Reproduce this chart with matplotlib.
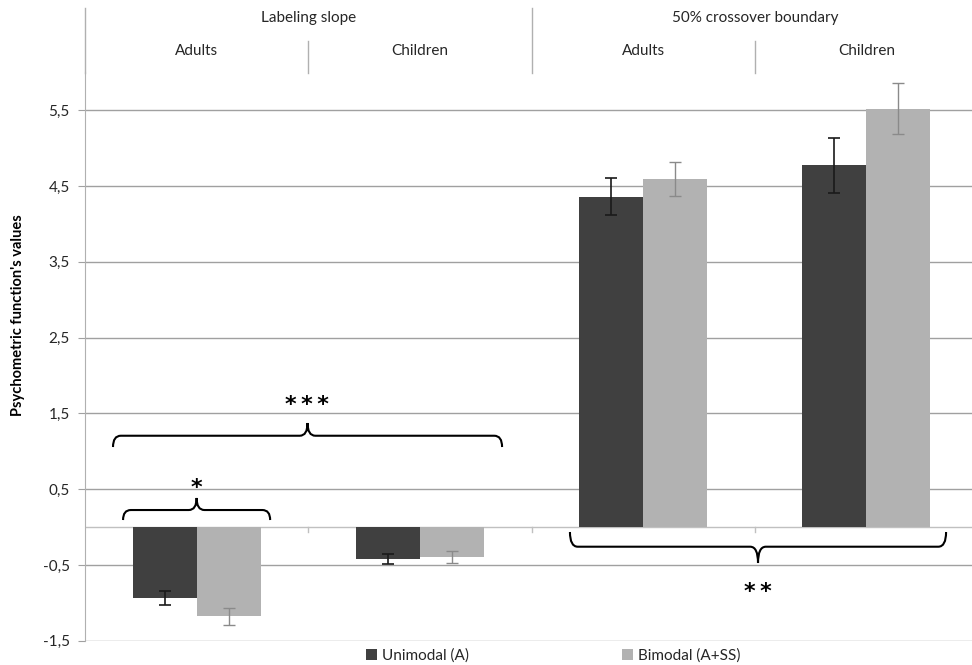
import matplotlib
matplotlib.use("Agg")
import matplotlib.pyplot as plt
import numpy as np
from matplotlib.path import Path
from matplotlib.patches import PathPatch
from matplotlib.transforms import blended_transform_factory

plt.rcParams['font.family'] = ['Lato', 'DejaVu Sans']

groups = ["Labeling slope", "50% crossover boundary"]
subgroups = ["Adults", "Children", "Adults", "Children"]
series = ["Unimodal (A)", "Bimodal (A+SS)"]
unimodal = [-0.94, -0.42, 4.36, 4.77]
unimodal_err = [0.09, 0.065, 0.24, 0.36]
bimodal = [-1.18, -0.40, 4.59, 5.52]
bimodal_err = [0.115, 0.08, 0.225, 0.34]
yticks = [-1.5, -0.5, 0.5, 1.5, 2.5, 3.5, 4.5, 5.5]

dark = "#404040"
light = "#b2b2b2"
grid = "#a0a0a0"


def brace(ax, x0, x1, y_end, y_mid, y_tip, rx=0.035):
    xm = (x0 + x1) / 2
    verts = [(x0, y_end), (x0, y_mid), (x0 + rx, y_mid),
             (xm - rx, y_mid), (xm, y_mid), (xm, y_tip),
             (xm, y_mid), (xm + rx, y_mid),
             (x1 - rx, y_mid), (x1, y_mid), (x1, y_end)]
    codes = [Path.MOVETO, Path.CURVE3, Path.CURVE3,
             Path.LINETO, Path.CURVE3, Path.CURVE3,
             Path.CURVE3, Path.CURVE3,
             Path.LINETO, Path.CURVE3, Path.CURVE3]
    ax.add_patch(PathPatch(Path(verts, codes), fill=False, lw=1.5,
                           edgecolor="black", zorder=5, clip_on=False))


fig = plt.figure(figsize=(9.72, 6.65), dpi=100)
W, H = 972, 665
left, right = 85.1, 978.0
bottom, top = 640.7, 72.2
ax = fig.add_axes([left / W, (H - bottom) / H, (right - left) / W, (bottom - top) / H])

x = np.arange(len(subgroups))
bw = 0.287
ax.bar(x - bw / 2, unimodal, bw, color=dark, zorder=3, label=series[0])
ax.bar(x + bw / 2, bimodal, bw, color=light, zorder=3, label=series[1])
ax.errorbar(x - bw / 2, unimodal, yerr=unimodal_err, fmt="none", ecolor="#1a1a1a",
            elinewidth=1.2, capsize=4, capthick=1.2, zorder=4)
ax.errorbar(x + bw / 2, bimodal, yerr=bimodal_err, fmt="none", ecolor="#8a8a8a",
            elinewidth=1.0, capsize=4, capthick=1.0, zorder=4)

ax.set_xlim(-0.5, 3.5)
ax.set_ylim(-1.5, 6.0)
ax.set_yticks(yticks)
ax.set_yticklabels([("%.1f" % v).replace(".", ",") for v in yticks])
ax.set_xticks([])
for v in yticks:
    ax.axhline(v, color=grid, lw=1, zorder=1)
ax.axhline(0, color="#c0c0c0", lw=1, zorder=2)
for b in [0.5, 1.5, 2.5]:
    ax.plot([b, b], [0, -0.07], color="#c0c0c0", lw=1, zorder=2)

for s in ["top", "right", "bottom"]:
    ax.spines[s].set_visible(False)
ax.spines["left"].set_color("#b0b0b0")
ax.tick_params(axis="y", length=5, color=grid, pad=6, labelsize=11, labelcolor="#262626")

# category header at the top
tr = blended_transform_factory(ax.transData, fig.transFigure)
def fy(py):
    return (H - py) / H
for i, name in enumerate(subgroups):
    ax.text(i, fy(51), name, transform=tr, ha="center", va="center",
            fontsize=11, color="#262626")
for g, name in enumerate(groups):
    ax.text(2 * g + 0.5, fy(18), name, transform=tr, ha="center", va="center",
            fontsize=11, color="#262626")
for b in [0.5, 2.5]:
    ax.plot([b, b], [fy(41), fy(73)], transform=tr, color="#b0b0b0", lw=1, clip_on=False)
for b in [-0.5, 1.5]:
    ax.plot([b, b], [fy(8), fy(73)], transform=tr, color="#b0b0b0", lw=1, clip_on=False)

# significance braces
brace(ax, -0.33, 0.329, 0.092, 0.224, 0.383)
brace(ax, -0.375, 1.368, 1.055, 1.204, 1.372)
brace(ax, 1.672, 3.357, -0.066, -0.26, -0.475)
star = dict(ha="center", va="center", fontsize=16, fontweight="bold",
            family="DejaVu Sans")
ax.text(0.0, 0.52, "*", **star)
ax.text(0.494, 1.61, "*\u2009*\u2009*", **star)
ax.text(2.515, -0.86, "*\u2009*", **star)

fig.text(18 / W, fy(315), "Psychometric function's values", rotation=90,
         ha="center", va="center", fontsize=10.5, fontweight="bold", color="black")

fig.legend(loc="center", bbox_to_anchor=(553 / W, fy(656)), ncol=2, frameon=False,
           fontsize=11, handlelength=0.75, handleheight=0.75, handletextpad=0.3,
           columnspacing=10.0, labelcolor="#262626")

fig.savefig("out.png", dpi=100)
